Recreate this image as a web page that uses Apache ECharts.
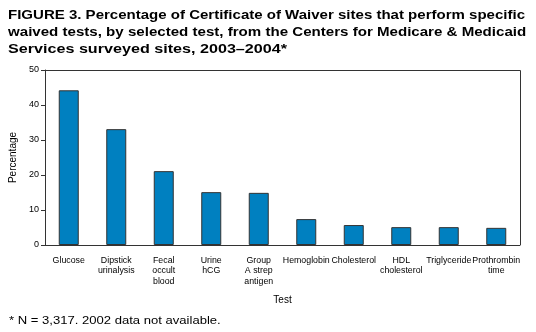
<!DOCTYPE html>
<html><head><meta charset="utf-8">
<script src="https://cdn.jsdelivr.net/npm/echarts@6/dist/echarts.min.js"></script>
<style>html,body{margin:0;padding:0;background:#fff}#c{width:536px;height:332px}</style>
</head><body><div id="c"></div>
<script>
const categories = ['Glucose','Dipstick\nurinalysis','Fecal\noccult\nblood','Urine\nhCG','Group\nA strep\nantigen','Hemoglobin','Cholesterol','HDL\ncholesterol','Triglyceride','Prothrombin\ntime'];
const percentages = [44.2, 33.1, 21.1, 15.1, 14.9, 7.4, 5.7, 5.1, 5.1, 4.9];
const yTicks = [0, 10, 20, 30, 40, 50];
const titleLines = ['FIGURE 3. Percentage of Certificate of Waiver sites that perform specific','waived tests, by selected test, from the Centers for Medicare & Medicaid','Services surveyed sites, 2003\u20132004*'];
const footnote = '* N = 3,317. 2002 data not available.';

const font = 'Liberation Sans, Arial, Helvetica, sans-serif';
const chart = echarts.init(document.getElementById('c'), null, {renderer:'canvas'});
const titleScale = [1.105, 1.11, 1.187];
chart.setOption({
  animation: false,
  textStyle: {fontFamily: font},
  graphic: [
    ...titleLines.map((t, i) => ({type:'text', x: 8, y: 8 + i*17, scaleX: titleScale[i], style:{text: t, font: 'bold 13.6px ' + font, fill:'#000'}})),
    {type:'text', x: 9, y: 316, scaleX: 1.21, style:{text: footnote, font: '10.8px ' + font, fill:'#000'}},
    {type:'polyline', shape:{points:[[41, 70.5],[520.5, 70.5],[520.5, 245]]}, style:{stroke:'#333', lineWidth:1, fill:null}}
  ],
  grid: {left: 41, right: 16, top: 70, bottom: 87, containLabel: false},
  xAxis: {
    type: 'category', data: categories,
    name: 'Test', nameLocation: 'middle', nameGap: 50,
    nameTextStyle: {fontSize: 10, color: '#000', fontFamily: font},
    axisLine: {lineStyle: {color: '#333', width: 1}},
    axisTick: {alignWithLabel: true, length: 4, lineStyle: {color: '#333'}},
    axisLabel: {interval: 0, fontSize: 8.8, color: '#000', lineHeight: 10.5, margin: 10, fontFamily: font}
  },
  yAxis: {
    type: 'value', min: yTicks[0], max: yTicks[yTicks.length-1], interval: 10,
    name: 'Percentage', nameLocation: 'middle', nameGap: 27,
    nameTextStyle: {fontSize: 10, color: '#000', fontFamily: font},
    axisLine: {show: true, lineStyle: {color: '#333', width: 1}},
    axisTick: {show: true, length: 4, lineStyle: {color: '#333'}},
    axisLabel: {fontSize: 9, color: '#000', margin: 6, fontFamily: font},
    splitLine: {show: false}
  },
  series: [{
    type: 'bar', data: percentages, barWidth: 20,
    itemStyle: {color: '#0080C0', borderColor: '#333', borderWidth: 1}
  }]
});
</script></body></html>
